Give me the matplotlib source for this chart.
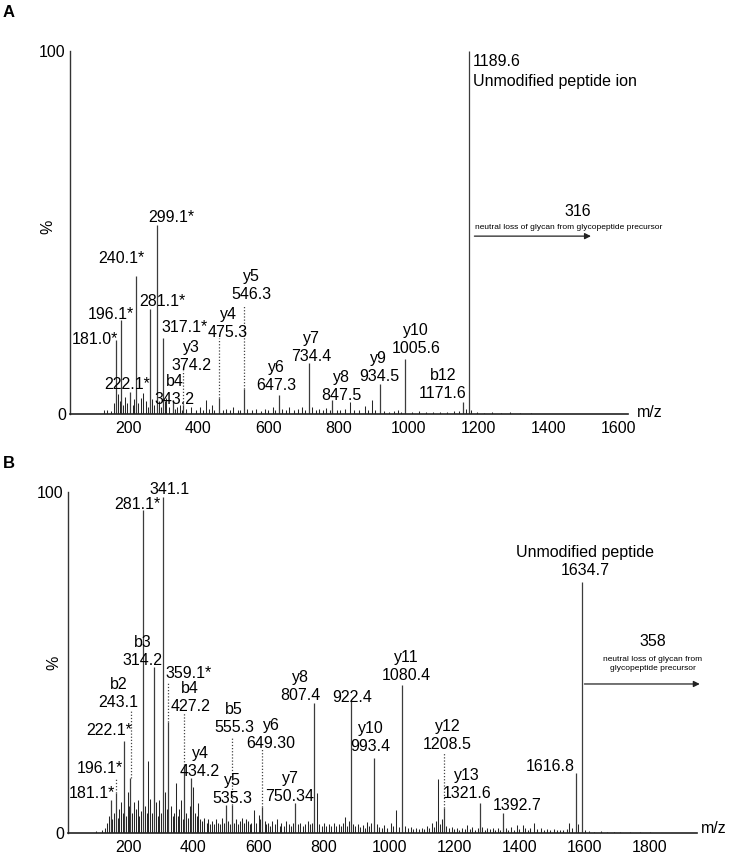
import matplotlib
matplotlib.use("Agg")
import matplotlib.pyplot as plt

plt.rcParams['font.family'] = ['Liberation Sans', 'DejaVu Sans']

# ---------------- panel A data (peak position on axis, relative intensity %) ----------------
a_major_mz = [164, 179, 205, 222, 262, 281, 298, 326, 357, 458, 529, 630, 716, 783, 919, 991, 1157, 1173]
a_major_int = [20.5, 26, 6, 38, 29, 52, 21, 3.9, 2.5, 4.5, 7, 5.2, 14, 3.9, 8.4, 15.2, 3.2, 100]

a_minor_mz = [130, 138, 150, 158, 170, 176, 184, 191, 197, 212, 216, 228, 235, 243, 250, 256, 268, 274,
              287, 292, 304, 308, 315, 334, 340, 348, 352, 366, 380, 392, 405, 413, 421, 430, 438, 446,
              470, 480, 490, 500, 512, 520, 540, 552, 565, 578, 590, 600, 612, 620, 640, 650, 660, 672,
              685, 695, 705, 725, 735, 745, 755, 765, 775, 795, 805, 820, 833, 845, 860, 876, 885, 895,
              905, 930, 945, 960, 970, 980, 1010, 1030, 1050, 1070, 1090, 1110, 1130, 1145, 1165, 1180,
              1195, 1215, 1240, 1265, 1290, 1320, 1350]
a_minor_int = [1.0, 1.2, 0.8, 3.0, 5.5, 3.5, 2.5, 4.8, 3.0, 2.5, 4.0, 3.0, 4.5, 5.7, 3.5, 2.0, 4.0, 2.5,
               3.5, 2.0, 3.5, 4.3, 2.0, 1.5, 2.0, 2.5, 1.2, 1.5, 1.8, 1.2, 2.0, 1.0, 3.9, 1.5, 2.5, 1.2,
               1.0, 1.5, 1.0, 1.8, 1.2, 1.0, 1.5, 1.0, 1.3, 0.8, 1.5, 1.2, 2.0, 1.0, 1.5, 1.0, 1.8, 1.0,
               1.5, 2.0, 1.2, 2.0, 1.0, 1.5, 1.2, 1.6, 1.0, 1.2, 1.0, 1.5, 3.4, 1.2, 1.0, 2.2, 1.0, 3.9,
               1.2, 0.8, 0.6, 0.8, 1.0, 0.6, 0.6, 0.8, 0.5, 0.6, 0.5, 0.6, 0.8, 0.7, 1.5, 1.0,
               0.5, 0.4, 0.5, 0.4, 0.5, 0.3, 0.3]

# dotted annotation lines: position, from intensity, to intensity
a_dot_mz = [357, 458, 529]
a_dot_lo = [2.5, 4.5, 7]
a_dot_hi = [12, 20.8, 30]

a_labels = ["181.0*", "196.1*", "240.1*", "299.1*", "281.1*", "317.1*", "y3\n374.2", "b4\n343.2",
            "222.1*", "y4\n475.3", "y5\n546.3", "y6\n647.3", "y7\n734.4", "y8\n847.5", "y9\n934.5",
            "y10\n1005.6", "b12\n1171.6"]
a_lab_x = [105, 151, 179, 322, 296, 361, 381, 333, 196, 485, 551, 622, 722, 810, 916, 1022, 1099]
a_lab_y = [20.4, 27.3, 42.7, 54, 30.9, 23.7, 15.8, 6.6, 8, 25, 35.5, 10.3, 18.4, 7.7, 12.9, 20.4, 8]

# ---------------- panel B data ----------------
b_major_mz = [146, 162, 188, 205, 246, 279, 308, 323, 372, 393, 500, 517, 611, 712, 770, 883, 954,
              1041, 1169, 1279, 1349, 1573, 1591]
b_major_int = [9.7, 11.6, 27, 16, 94.7, 48.7, 98.5, 32.6, 20, 16, 8.2, 8.2, 7.7, 8.7, 38, 39, 22,
               43.4, 7.2, 8.7, 6, 17.5, 73.6]

b_minor_mz = [100, 118, 128, 135, 140, 150, 155, 168, 172, 178, 183, 193, 198, 201, 212, 218, 224, 229,
              234, 240, 252, 256, 262, 268, 273, 284, 290, 295, 300, 314, 318, 330, 336, 341, 346, 352,
              357, 362, 367, 378, 384, 388, 400, 405, 410, 415, 420, 426, 432, 440, 446, 452, 458, 464,
              470, 476, 482, 488, 494, 506, 512, 524, 530, 536, 542, 548, 554, 560, 566, 572, 578, 587,
              593, 600, 605, 618, 624, 630, 636, 642, 650, 657, 664, 670, 678, 685, 692, 700, 706, 720,
              728, 735, 742, 750, 757, 763, 778, 786, 793, 800, 808, 815, 822, 830, 838, 845, 852, 858,
              865, 872, 878, 890, 897, 905, 912, 920, 926, 933, 940, 946, 962, 970, 978, 986, 995, 1005,
              1012, 1021, 1030, 1050, 1058, 1066, 1075, 1084, 1092, 1100, 1108, 1116, 1124, 1131, 1138,
              1143, 1149, 1157, 1162, 1176, 1184, 1192, 1200, 1208, 1216, 1224, 1232, 1240, 1248, 1256,
              1264, 1272, 1286, 1294, 1302, 1310, 1318, 1326, 1334, 1342, 1358, 1366, 1374, 1382, 1393,
              1400, 1410, 1418, 1426, 1434, 1445, 1455, 1465, 1475, 1485, 1495, 1505, 1515, 1525, 1535,
              1545, 1553, 1562, 1580, 1600, 1615, 1630, 1650, 1670, 1690, 1710, 1740, 1770, 1800]
b_minor_int = [0.5, 0.8, 1.5, 3.0, 5.0, 4.0, 6.0, 4.5, 7.0, 9.0, 6.0, 5.0, 12.0, 8.0, 6.0, 9.0, 7.0, 9.7,
               5.0, 6.5, 8.0, 6.0, 21.0, 10.0, 6.0, 9.0, 5.0, 9.7, 6.0, 12.0, 7.0, 8.0, 5.0, 6.0, 14.6, 5.0,
               7.0, 9.7, 4.0, 6.0, 4.5, 8.0, 13.6, 6.0, 5.0, 8.7, 4.0, 3.5, 4.5, 3.0, 4.0, 2.5, 3.5, 2.5,
               4.0, 3.0, 2.5, 4.5, 3.0, 3.5, 2.5, 3.0, 4.0, 2.5, 3.5, 4.5, 3.0, 4.0, 3.5, 2.5, 3.0, 6.7,
               3.0, 5.3, 4.0, 3.5, 2.5, 3.0, 2.0, 3.5, 2.5, 4.0, 2.0, 3.0, 2.0, 3.5, 2.5, 2.0, 3.0, 2.5,
               3.0, 2.0, 2.5, 3.5, 2.5, 3.0, 11.6, 2.5, 2.0, 3.0, 2.0, 2.5, 2.0, 3.0, 2.0, 2.5, 2.0, 3.0,
               4.8, 2.0, 3.5, 2.5, 2.0, 2.5, 1.8, 2.2, 1.5, 3.3, 2.0, 3.0, 2.5, 1.8, 1.5, 2.2, 1.5, 2.8,
               2.0, 6.7, 1.8, 2.0, 1.5, 1.8, 1.2, 1.6, 1.2, 1.5, 1.2, 2.0, 1.5, 2.8, 1.8,
               3.5, 15.7, 2.5, 4.0, 2.0, 1.5, 1.8, 1.2, 1.5, 1.0, 1.5, 1.2, 2.3, 1.2, 1.8,
               1.0, 1.5, 1.9, 1.0, 1.5, 1.2, 1.6, 1.0, 1.4, 1.0, 1.5, 1.0, 1.8, 1.0, 2.4,
               1.2, 2.4, 1.5, 1.0, 1.6, 2.8, 1.2, 1.5, 1.0, 1.3, 1.0, 1.2, 0.8, 1.0, 0.8,
               1.2, 2.8, 1.5, 2.5, 0.8, 0.5, 0.4, 0.5, 0.3, 0.4, 0.3, 0.3, 0.3, 0.3]

b_dot_mz = [162, 207, 323, 372, 517, 611, 1169]
b_dot_lo = [11.6, 16, 32.6, 20, 8.2, 7.7, 7.2]
b_dot_hi = [16, 36, 44, 35.5, 28, 25, 23.5]

b_labels = ["341.1", "281.1*", "b3\n314.2", "359.1*", "b4\n427.2", "b2\n243.1", "222.1*", "196.1*",
            "181.1*", "b5\n555.3", "y6\n649.30", "y4\n434.2", "y5\n535.3", "y7\n750.34", "y8\n807.4",
            "922.4", "y10\n993.4", "y11\n1080.4", "y12\n1208.5", "y13\n1321.6", "1392.7", "1616.8",
            "Unmodified peptide\n1634.7"]
b_lab_x = [328, 227, 244, 386, 390, 170, 142, 112, 88, 524, 638, 420, 520, 696, 727, 888, 944, 1052,
           1179, 1240, 1394, 1494, 1601]
b_lab_y = [100.6, 96.2, 53.2, 46.9, 39.7, 41, 30.2, 19, 11.6, 33.6, 28.8, 20.7, 12.9, 13.4, 42.9, 39.8,
           27.9, 48.8, 28.7, 14.1, 8.2, 19.4, 79.6]

PEAK_C = '#3c3c3c'
FS = 11.5


def style_axes(ax, xlim, xticks, pct_x, pct_y):
    ax.set_xlim(*xlim)
    ax.set_ylim(0, 100)
    for s in ['top', 'right']:
        ax.spines[s].set_visible(False)
    ax.spines['left'].set_linewidth(1.0)
    ax.spines['bottom'].set_linewidth(1.2)
    ax.spines['left'].set_color('#333333')
    ax.spines['bottom'].set_color('#222222')
    ax.set_yticks([0, 100])
    ax.set_xticks(xticks)
    ax.tick_params(axis='both', length=0, labelsize=FS)
    ax.tick_params(axis='y', pad=3)
    ax.tick_params(axis='x', pad=5)
    ax.text(pct_x, pct_y, '%', transform=ax.transAxes, rotation=90, fontsize=FS,
            ha='center', va='center')


def draw_panel(ax, major_mz, major_int, minor_mz, minor_int, dot_mz, dot_lo, dot_hi,
               labels, lab_x, lab_y):
    ax.vlines(minor_mz, 0, minor_int, color='#262626', lw=0.75)
    ax.vlines(major_mz, 0, major_int, color=PEAK_C, lw=0.9)
    ax.vlines(dot_mz, dot_lo, dot_hi, color='#444444', lw=0.9, linestyles=(0, (1, 1.5)))
    for t, x, y in zip(labels, lab_x, lab_y):
        ax.text(x, y, t, ha='center', va='center', fontsize=FS, linespacing=1.25)


fig = plt.figure(figsize=(7.29, 8.57), dpi=100)

# ---- A ----
axA = fig.add_axes([70 / 729, 1 - 414 / 857, 558 / 729, 363 / 857])
style_axes(axA, (33, 1628), [200, 400, 600, 800, 1000, 1200, 1400, 1600], -0.04, 0.515)
draw_panel(axA, a_major_mz, a_major_int, a_minor_mz, a_minor_int, a_dot_mz, a_dot_lo, a_dot_hi,
           a_labels, a_lab_x, a_lab_y)
axA.text(1184, 97, '1189.6', ha='left', va='center', fontsize=FS)
axA.text(1184, 91.5, 'Unmodified peptide ion', ha='left', va='center', fontsize=FS)
axA.text(1483, 55.9, '316', ha='center', va='center', fontsize=FS)
axA.text(1190, 51.3, 'neutral loss of glycan from glycopeptide precursor', ha='left', va='center',
         fontsize=6)
axA.annotate('', xy=(1530, 49), xytext=(1181, 49),
             arrowprops=dict(arrowstyle='-|>', color='#222222', lw=0.9, mutation_scale=9))
axA.text(1653, 0.3, 'm/z', ha='left', va='center', fontsize=FS, clip_on=False)
fig.text(3 / 729, 1 - 12.5 / 857, 'A', fontsize=12, fontweight='bold', ha='left', va='center')

# ---- B ----
axB = fig.add_axes([68 / 729, 1 - 833 / 857, 629 / 729, 341 / 857])
style_axes(axB, (15, 1945), [200, 400, 600, 800, 1000, 1200, 1400, 1600, 1800], -0.022, 0.4985)
draw_panel(axB, b_major_mz, b_major_int, b_minor_mz, b_minor_int, b_dot_mz, b_dot_lo, b_dot_hi,
           b_labels, b_lab_x, b_lab_y)
axB.text(1809, 56.1, '358', ha='center', va='center', fontsize=FS)
axB.text(1809, 49.6, 'neutral loss of glycan from\nglycopeptide precursor', ha='center', va='center',
         fontsize=6, linespacing=1.3)
axB.annotate('', xy=(1962, 43.7), xytext=(1591, 43.7),
             arrowprops=dict(arrowstyle='-|>', color='#222222', lw=0.9, mutation_scale=9),
             annotation_clip=False)
axB.text(1956, 1.4, 'm/z', ha='left', va='center', fontsize=FS, clip_on=False)
fig.text(3 / 729, 1 - 464 / 857, 'B', fontsize=12, fontweight='bold', ha='left', va='center')

fig.savefig('out.png', dpi=100)
